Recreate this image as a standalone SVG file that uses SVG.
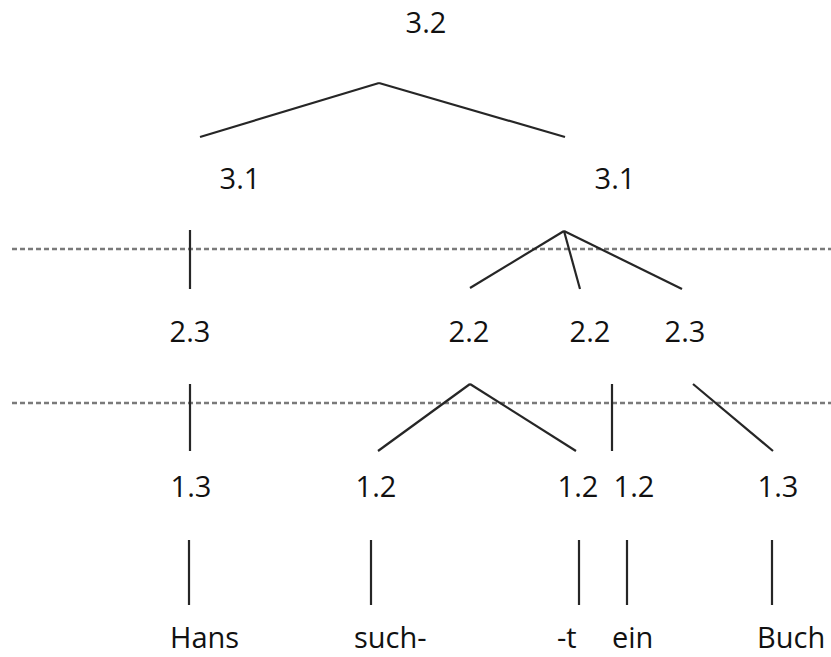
<svg xmlns="http://www.w3.org/2000/svg" width="831" height="657" viewBox="0 0 831 657">
<style>
text{font-family:"Open Sans","Liberation Sans",sans-serif;font-size:29px;fill:#111}
.c{text-anchor:middle}
.s{text-anchor:start}
line{stroke:#262626;stroke-width:2.2;stroke-linecap:butt}
.d{stroke:#7a7a7a;stroke-width:2.6;stroke-dasharray:5 3}
</style>
<rect width="831" height="657" fill="#fff"/>
<g id="levels">
<line class="d" x1="12" y1="249" x2="831" y2="249"/>
<line class="d" x1="12" y1="403" x2="831" y2="403"/>
</g>
<g id="connectors">
<line x1="379" y1="83" x2="200" y2="137"/>
<line x1="379" y1="83" x2="565" y2="137"/>
<line x1="190" y1="230" x2="190" y2="289"/>
<line x1="564" y1="231" x2="470" y2="288"/>
<line x1="564" y1="231" x2="580" y2="289"/>
<line x1="564" y1="231" x2="682" y2="289"/>
<line x1="190" y1="384" x2="190" y2="451"/>
<line x1="470" y1="384" x2="378" y2="451"/>
<line x1="470" y1="384" x2="576" y2="451"/>
<line x1="612" y1="384" x2="612" y2="451"/>
<line x1="693" y1="384" x2="773" y2="451"/>
<line x1="189" y1="540" x2="189" y2="605"/>
<line x1="371" y1="540" x2="371" y2="605"/>
<line x1="579" y1="540" x2="579" y2="605"/>
<line x1="627" y1="540" x2="627" y2="605"/>
<line x1="772" y1="540" x2="772" y2="605"/>
</g>
<g id="n32"><text class="c" x="426" y="33">3.2</text></g>
<g id="n31a"><text class="c" x="240" y="189">3.1</text></g>
<g id="n31b"><text class="c" x="615" y="189">3.1</text></g>
<g id="n23a"><text class="c" x="190" y="342">2.3</text></g>
<g id="n22a"><text class="c" x="469" y="342">2.2</text></g>
<g id="n22b"><text class="c" x="590" y="342">2.2</text></g>
<g id="n23b"><text class="c" x="685" y="342">2.3</text></g>
<g id="n13a"><text class="c" x="191" y="497">1.3</text></g>
<g id="n12a"><text class="c" x="376" y="497">1.2</text></g>
<g id="n12b"><text class="c" x="578" y="497">1.2</text></g>
<g id="n12c"><text class="c" x="634" y="497">1.2</text></g>
<g id="n13b"><text class="c" x="778" y="497">1.3</text></g>
<g id="wHans"><text class="s" x="170" y="648">Hans</text></g>
<g id="wsuch"><text class="s" x="354" y="648">such-</text></g>
<g id="wt"><text class="s" x="557" y="648">-t</text></g>
<g id="wein"><text class="s" x="612" y="648">ein</text></g>
<g id="wBuch"><text class="s" x="757" y="648">Buch</text></g>
</svg>
